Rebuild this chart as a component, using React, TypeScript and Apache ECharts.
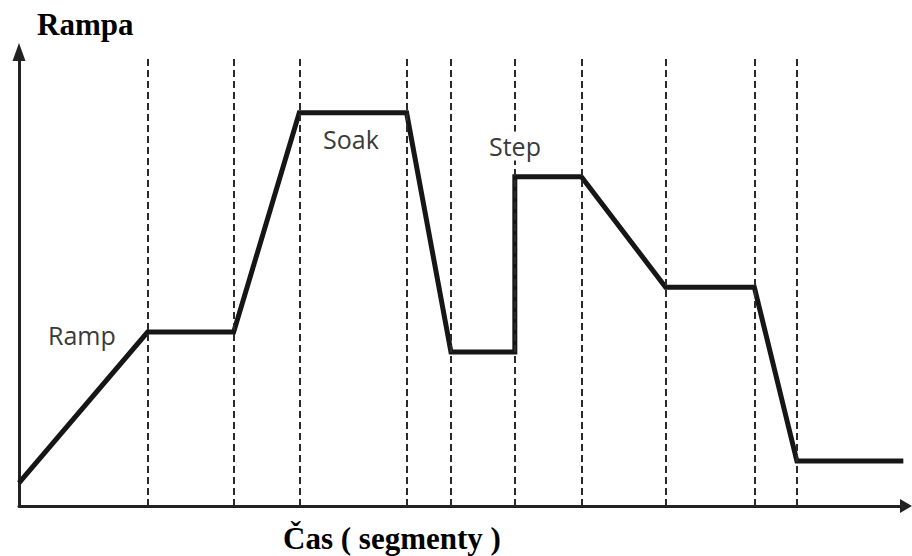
import React, { useEffect, useRef } from "react";
import * as echarts from "echarts";

// Segment boundaries (time units) where dashed guide lines are drawn
const segmentBoundaries = [14.5, 24.2, 31.6, 43.7, 48.7, 55.9, 63.4, 72.9, 82.9, 87.7];
// Profile vertices: time and value (ramp / soak / step program)
const profileTime = [0, 14.5, 24.2, 31.6, 43.7, 48.7, 55.9, 55.9, 63.4, 72.9, 82.9, 87.7, 99.7];
const profileValue = [5.1, 38.3, 38.3, 86.6, 86.6, 33.9, 33.9, 72.5, 72.5, 48.2, 48.2, 9.9, 9.9];
const guideTop = 99.3;

const yTitle = "Rampa";
const xTitle = "Čas ( segmenty )";
const annotations = [
  { text: "Ramp", x: 48, y: 335, bg: false },
  { text: "Soak", x: 323, y: 139, bg: false },
  { text: "Step", x: 488, y: 146, bg: true },
];

export default function App() {
  const ref = useRef<HTMLDivElement>(null);
  useEffect(() => {
    if (!ref.current) return;
    const chart = echarts.init(ref.current, null, { renderer: "svg" });
    const lineData = profileTime.map((t, i) => [t, profileValue[i]]);
    const guides = segmentBoundaries.map((t) => [
      { coord: [t, 0] },
      { coord: [t, guideTop] },
    ]);
    const axisColor = "#222";
    chart.setOption({
      animation: false,
      backgroundColor: "#fff",
      grid: { left: 19, right: 6, top: 52, bottom: 50 },
      xAxis: {
        type: "value",
        min: 0,
        max: 100,
        axisLine: {
          show: true,
          onZero: false,
          symbol: ["none", "triangle"],
          symbolSize: [14, 12],
          lineStyle: { color: axisColor, width: 3 },
        },
        axisTick: { show: false },
        axisLabel: { show: false },
        splitLine: { show: false },
      },
      yAxis: {
        type: "value",
        min: 0,
        max: 100,
        axisLine: {
          show: true,
          onZero: false,
          symbol: ["none", "triangle"],
          symbolSize: [13, 18],
          lineStyle: { color: axisColor, width: 3 },
        },
        axisTick: { show: false },
        axisLabel: { show: false },
        splitLine: { show: false },
      },
      series: [
        {
          type: "line",
          data: [],
          z: 1,
          markLine: {
            silent: true,
            symbol: ["none", "none"],
            label: { show: false },
            lineStyle: { type: [7, 4], width: 2, color: "#2a2a2a" },
            data: guides,
          },
        },
        {
          type: "line",
          data: lineData,
          z: 3,
          showSymbol: false,
          symbol: "none",
          lineStyle: { color: "#161616", width: 5, join: "miter" },
        },
      ],
      graphic: [
        {
          type: "text",
          x: 37,
          y: 24,
          style: {
            text: yTitle,
            font: 'bold 31px "Liberation Serif"',
            fill: "#000",
            align: "left",
            verticalAlign: "middle",
          },
        },
        {
          type: "text",
          x: 392,
          y: 538,
          style: {
            text: xTitle,
            font: 'bold 31px "Liberation Serif"',
            fill: "#000",
            align: "center",
            verticalAlign: "middle",
          },
        },
        ...annotations.map((a) => ({
          type: "text",
          x: a.x,
          y: a.y,
          z: 10,
          style: {
            text: a.text,
            font: '25px "Open Sans"',
            fill: "#3a3a3a",
            align: "left",
            verticalAlign: "middle",
            backgroundColor: a.bg ? "#fff" : undefined,
            padding: a.bg ? [2, 1] : 0,
          },
        })),
      ],
    });
    return () => chart.dispose();
  }, []);
  return (
    <div
      ref={ref}
      style={{ position: "absolute", left: 0, top: 0, width: 912, height: 556 }}
    />
  );
}
